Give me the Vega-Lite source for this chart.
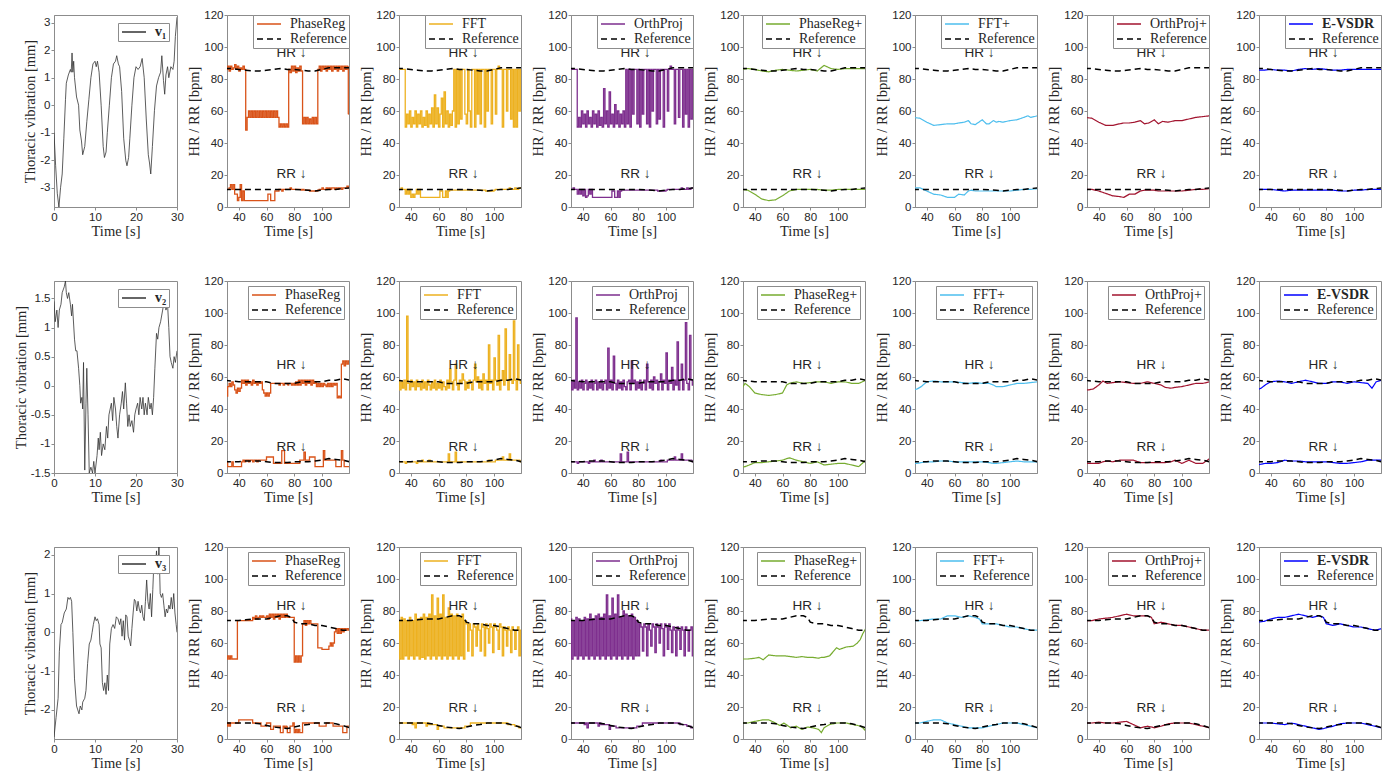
{
"$schema":"https://vega.github.io/schema/vega-lite/v6.json",
"padding":{"left":12,"top":8,"right":2,"bottom":0},
"background":"white",
"config":{
 "view":{"stroke":"#8c8c8c","strokeWidth":1},
 "axis":{"grid":false,"domainColor":"#8c8c8c","tickColor":"#8c8c8c","tickSize":3,"labelFont":"Liberation Sans","labelFontSize":11.5,"labelColor":"#262626","titleFont":"Liberation Serif","titleFontSize":14.5,"titleFontWeight":"normal","titleColor":"#262626","labelPadding":1,"titlePadding":2,"labelFlush":false},
 "legend":{"orient":"top-right","offset":0,"fillColor":"white","strokeColor":"#8c8c8c","padding":2,"rowPadding":1,"symbolType":"M-2.4,0H2.4","symbolSize":100,"symbolStrokeWidth":1.5,"symbolOffset":7,"labelOffset":14,"labelFont":"Liberation Serif","labelFontSize":14,"labelColor":"#262626"},
 "text":{"font":"Liberation Sans","fontSize":13.5,"color":"#262626"}
},
"datasets":{
 "ann1":[{"t":78,"value":92,"label":"HR ↓"},{"t":78,"value":16,"label":"RR ↓"}],
 "ann2":[{"t":78,"value":63,"label":"HR ↓"},{"t":78,"value":12,"label":"RR ↓"}],
 "ann3":[{"t":78,"value":79,"label":"HR ↓"},{"t":78,"value":15,"label":"RR ↓"}],
 "v1":[{"t":0,"v":-1},{"t":0.4,"v":-2.2},{"t":0.8,"v":-3.2},{"t":1.2,"v":-3.7},{"t":1.6,"v":-3},{"t":2,"v":-2.5},{"t":2.4,"v":-1.2},{"t":2.8,"v":0.2},{"t":3,"v":0.8},{"t":3.5,"v":1.1},{"t":4,"v":1.3},{"t":4.2,"v":1.2},{"t":4.4,"v":1.9},{"t":4.6,"v":1.2},{"t":4.8,"v":1.6},{"t":5,"v":1},{"t":5.5,"v":0.3},{"t":6,"v":0},{"t":6.3,"v":-0.9},{"t":6.7,"v":-1.3},{"t":7,"v":-1.8},{"t":7.5,"v":-1.5},{"t":8,"v":-0.6},{"t":8.5,"v":0.2},{"t":9,"v":1},{"t":9.5,"v":1.5},{"t":10,"v":1.6},{"t":10.3,"v":1.4},{"t":10.6,"v":1.6},{"t":11,"v":1.2},{"t":11.5,"v":0},{"t":12,"v":-1.5},{"t":12.3,"v":-1.9},{"t":12.7,"v":-1.7},{"t":13,"v":-1},{"t":13.5,"v":0},{"t":14,"v":1},{"t":14.5,"v":1.5},{"t":15,"v":1.6},{"t":15.3,"v":1.8},{"t":15.7,"v":1.5},{"t":16,"v":1.4},{"t":16.5,"v":0.5},{"t":17,"v":-1.2},{"t":17.5,"v":-2},{"t":17.8,"v":-2.2},{"t":18.2,"v":-1.9},{"t":18.5,"v":-1.2},{"t":19,"v":0},{"t":19.5,"v":1},{"t":20,"v":1.4},{"t":20.5,"v":1.3},{"t":21,"v":1.4},{"t":21.5,"v":1.7},{"t":22,"v":1},{"t":22.5,"v":-0.5},{"t":23,"v":-1.8},{"t":23.3,"v":-2.1},{"t":23.6,"v":-2.5},{"t":24,"v":-1.5},{"t":24.5,"v":-0.2},{"t":25,"v":0.7},{"t":25.5,"v":1},{"t":26,"v":1.2},{"t":26.3,"v":1.8},{"t":26.7,"v":0.9},{"t":27,"v":0.4},{"t":27.3,"v":1.1},{"t":27.7,"v":1.4},{"t":28,"v":1},{"t":28.5,"v":1.4},{"t":29,"v":1.3},{"t":29.3,"v":1.6},{"t":29.6,"v":2.5},{"t":30,"v":3.2}],
 "v2":[{"t":0,"v":1.45},{"t":0.3,"v":1.1},{"t":0.7,"v":1.3},{"t":1,"v":1},{"t":1.3,"v":1.3},{"t":1.7,"v":1.4},{"t":2,"v":1.6},{"t":2.5,"v":1.7},{"t":2.8,"v":1.8},{"t":3,"v":1.6},{"t":3.3,"v":1.5},{"t":3.6,"v":1.6},{"t":4,"v":1.4},{"t":4.3,"v":1.2},{"t":4.5,"v":1.4},{"t":5,"v":0.8},{"t":5.3,"v":0.6},{"t":5.6,"v":0.6},{"t":6,"v":0.3},{"t":6.3,"v":0},{"t":6.5,"v":-0.3},{"t":6.8,"v":-0.2},{"t":7,"v":-0.4},{"t":7.2,"v":0.4},{"t":7.5,"v":-1.45},{"t":7.8,"v":-0.3},{"t":8,"v":0.3},{"t":8.3,"v":-0.5},{"t":8.6,"v":-1.5},{"t":9,"v":-1.4},{"t":9.4,"v":-1.5},{"t":9.7,"v":-1.3},{"t":10,"v":-1.5},{"t":10.5,"v":-1.2},{"t":10.8,"v":-0.9},{"t":11,"v":-1.1},{"t":11.3,"v":-0.8},{"t":11.6,"v":-1.2},{"t":12,"v":-1},{"t":12.4,"v":-1.1},{"t":12.8,"v":-0.7},{"t":13.1,"v":-0.9},{"t":13.4,"v":-0.5},{"t":13.7,"v":-0.4},{"t":14,"v":-0.3},{"t":14.3,"v":-0.6},{"t":14.6,"v":-0.2},{"t":15,"v":-0.4},{"t":15.3,"v":-0.7},{"t":15.6,"v":-0.9},{"t":16,"v":-0.5},{"t":16.4,"v":-0.3},{"t":16.7,"v":-0.1},{"t":17,"v":-0.4},{"t":17.4,"v":0.05},{"t":17.7,"v":-0.3},{"t":18,"v":-0.7},{"t":18.3,"v":-0.5},{"t":18.6,"v":-0.7},{"t":19,"v":-0.6},{"t":19.4,"v":-0.8},{"t":19.7,"v":-0.5},{"t":20,"v":-0.4},{"t":20.4,"v":-0.3},{"t":20.7,"v":-0.5},{"t":21,"v":-0.2},{"t":21.4,"v":-0.4},{"t":21.7,"v":-0.2},{"t":22,"v":-0.5},{"t":22.3,"v":-0.3},{"t":22.7,"v":-0.5},{"t":23,"v":-0.2},{"t":23.4,"v":-0.4},{"t":23.7,"v":-0.3},{"t":24,"v":-0.5},{"t":24.3,"v":-0.2},{"t":24.6,"v":0.3},{"t":25,"v":0.9},{"t":25.3,"v":0.8},{"t":25.6,"v":1},{"t":26,"v":1.1},{"t":26.5,"v":1.3},{"t":27,"v":1.5},{"t":27.3,"v":1.3},{"t":27.7,"v":1.4},{"t":28,"v":1},{"t":28.3,"v":0.5},{"t":28.6,"v":0.4},{"t":29,"v":0.3},{"t":29.3,"v":0.5},{"t":29.6,"v":0.4},{"t":30,"v":0.6}],
 "v3":[{"t":0,"v":-2.7},{"t":0.5,"v":-2.2},{"t":1,"v":-1.7},{"t":1.3,"v":-0.5},{"t":1.7,"v":0.2},{"t":2,"v":0.25},{"t":2.5,"v":0.5},{"t":3,"v":0.6},{"t":3.4,"v":0.9},{"t":3.7,"v":0.85},{"t":4,"v":0.9},{"t":4.3,"v":0.8},{"t":4.6,"v":0},{"t":5,"v":-1.2},{"t":5.5,"v":-1.9},{"t":5.8,"v":-2},{"t":6.1,"v":-2.1},{"t":6.4,"v":-1.9},{"t":6.8,"v":-2},{"t":7,"v":-1.8},{"t":7.5,"v":-1.7},{"t":7.8,"v":-1.5},{"t":8.2,"v":-0.8},{"t":8.6,"v":-0.3},{"t":9,"v":-0.2},{"t":9.3,"v":0},{"t":9.6,"v":0.2},{"t":10,"v":0.4},{"t":10.3,"v":0.3},{"t":10.6,"v":0.35},{"t":11,"v":0.2},{"t":11.2,"v":-0.3},{"t":11.5,"v":-0.4},{"t":11.8,"v":-1.3},{"t":12.1,"v":-1.5},{"t":12.4,"v":-1.3},{"t":12.7,"v":-1.6},{"t":13,"v":-1.1},{"t":13.3,"v":-1.5},{"t":13.6,"v":-0.3},{"t":14,"v":0.1},{"t":14.4,"v":0.2},{"t":14.8,"v":0.1},{"t":15.2,"v":0.4},{"t":15.6,"v":0.35},{"t":16,"v":0.2},{"t":16.3,"v":0.35},{"t":16.6,"v":-0.1},{"t":16.9,"v":0.3},{"t":17.2,"v":-0.2},{"t":17.5,"v":0.45},{"t":17.8,"v":0.4},{"t":18.1,"v":-0.1},{"t":18.4,"v":-0.2},{"t":18.7,"v":-0.35},{"t":19,"v":0.1},{"t":19.3,"v":0.5},{"t":19.6,"v":0.85},{"t":19.9,"v":0.8},{"t":20.2,"v":0.55},{"t":20.5,"v":0.8},{"t":20.8,"v":0.6},{"t":21.1,"v":0.5},{"t":21.4,"v":0.7},{"t":21.7,"v":0.4},{"t":22,"v":0.3},{"t":22.3,"v":0.8},{"t":22.6,"v":1.35},{"t":22.9,"v":0.8},{"t":23.2,"v":0.6},{"t":23.5,"v":1},{"t":23.8,"v":0.4},{"t":24.1,"v":1.1},{"t":24.4,"v":1.9},{"t":24.7,"v":1.6},{"t":25,"v":2.1},{"t":25.3,"v":1.5},{"t":25.6,"v":2.3},{"t":25.9,"v":1},{"t":26.2,"v":0.9},{"t":26.5,"v":1},{"t":26.8,"v":0.7},{"t":27.1,"v":0.4},{"t":27.4,"v":0.6},{"t":27.7,"v":0.5},{"t":28,"v":0.7},{"t":28.3,"v":0.6},{"t":28.6,"v":0.9},{"t":28.9,"v":0.6},{"t":29.2,"v":1},{"t":29.5,"v":0.5},{"t":29.8,"v":0.2},{"t":30,"v":0}],
 "ref1":[{"t":30,"hr":86.5,"rr":11},{"t":35,"hr":86.5,"rr":11},{"t":40,"hr":86,"rr":11},{"t":45,"hr":85.5,"rr":11},{"t":50,"hr":85,"rr":11},{"t":55,"hr":85,"rr":11},{"t":60,"hr":85.5,"rr":11},{"t":65,"hr":86,"rr":11},{"t":70,"hr":86.5,"rr":11},{"t":75,"hr":86,"rr":11},{"t":80,"hr":86,"rr":11},{"t":85,"hr":85.5,"rr":10.8},{"t":90,"hr":85,"rr":10.5},{"t":95,"hr":85,"rr":10},{"t":100,"hr":86,"rr":10.5},{"t":105,"hr":87,"rr":11},{"t":110,"hr":87,"rr":11},{"t":115,"hr":87,"rr":11.5},{"t":120,"hr":87,"rr":12}],
 "ref2":[{"t":30,"hr":58,"rr":7},{"t":35,"hr":57.5,"rr":7},{"t":40,"hr":57,"rr":7},{"t":45,"hr":57,"rr":7.5},{"t":50,"hr":57,"rr":7.5},{"t":55,"hr":57,"rr":7.5},{"t":60,"hr":57,"rr":7},{"t":65,"hr":56,"rr":6.5},{"t":70,"hr":56,"rr":6.5},{"t":75,"hr":56,"rr":6.5},{"t":80,"hr":56,"rr":7},{"t":85,"hr":57,"rr":7},{"t":90,"hr":57,"rr":7},{"t":95,"hr":57,"rr":7.5},{"t":100,"hr":57,"rr":8},{"t":105,"hr":58,"rr":9},{"t":110,"hr":58,"rr":8.5},{"t":115,"hr":59,"rr":8},{"t":120,"hr":58,"rr":7}],
 "ref3":[{"t":30,"hr":74,"rr":10},{"t":35,"hr":74,"rr":10},{"t":40,"hr":74,"rr":10},{"t":45,"hr":74.5,"rr":10},{"t":50,"hr":75,"rr":10},{"t":55,"hr":75,"rr":9.5},{"t":60,"hr":75,"rr":8.5},{"t":65,"hr":76,"rr":7.5},{"t":70,"hr":77,"rr":7},{"t":75,"hr":77,"rr":6.5},{"t":78,"hr":76,"rr":7},{"t":80,"hr":73,"rr":7.5},{"t":85,"hr":72,"rr":8.5},{"t":90,"hr":72,"rr":9},{"t":95,"hr":71,"rr":10},{"t":100,"hr":71,"rr":10},{"t":105,"hr":70,"rr":10},{"t":110,"hr":69,"rr":9.5},{"t":115,"hr":68,"rr":8.5},{"t":120,"hr":68,"rr":7}],
 "pr1":[{"t":31,"hr":86,"rr":11},{"t":32,"hr":88,"rr":11},{"t":33,"hr":85,"rr":12},{"t":34,"hr":88,"rr":14},{"t":35,"hr":86,"rr":11},{"t":36,"hr":87,"rr":14},{"t":37,"hr":89,"rr":8},{"t":38,"hr":86,"rr":8},{"t":39,"hr":88,"rr":4},{"t":40,"hr":85,"rr":6},{"t":41,"hr":87,"rr":14},{"t":42,"hr":86,"rr":4},{"t":43,"hr":88,"rr":10},{"t":44,"hr":86,"rr":4},{"t":45,"hr":48,"rr":4},{"t":46,"hr":56,"rr":4},{"t":47,"hr":60,"rr":4},{"t":48,"hr":56,"rr":4},{"t":49,"hr":60,"rr":4},{"t":50,"hr":56,"rr":4},{"t":51,"hr":60,"rr":4},{"t":52,"hr":56,"rr":4},{"t":53,"hr":60,"rr":4},{"t":54,"hr":56,"rr":4},{"t":55,"hr":60,"rr":4},{"t":56,"hr":56,"rr":4},{"t":57,"hr":60,"rr":4},{"t":58,"hr":56,"rr":4},{"t":59,"hr":60,"rr":4},{"t":60,"hr":56,"rr":4},{"t":61,"hr":60,"rr":8},{"t":62,"hr":56,"rr":8},{"t":63,"hr":60,"rr":4},{"t":64,"hr":56,"rr":4},{"t":65,"hr":60,"rr":4},{"t":66,"hr":56,"rr":10},{"t":67,"hr":60,"rr":10},{"t":68,"hr":56,"rr":10},{"t":69,"hr":50,"rr":11},{"t":70,"hr":52,"rr":11},{"t":71,"hr":50,"rr":10},{"t":72,"hr":52,"rr":11},{"t":73,"hr":50,"rr":11},{"t":74,"hr":52,"rr":11},{"t":75,"hr":50,"rr":11},{"t":76,"hr":86,"rr":11},{"t":77,"hr":84,"rr":12},{"t":78,"hr":88,"rr":11},{"t":79,"hr":85,"rr":11},{"t":80,"hr":88,"rr":11},{"t":81,"hr":84,"rr":11},{"t":82,"hr":87,"rr":11},{"t":83,"hr":85,"rr":11},{"t":84,"hr":88,"rr":11},{"t":85,"hr":85,"rr":10.5},{"t":86,"hr":52,"rr":11},{"t":87,"hr":56,"rr":10.5},{"t":88,"hr":52,"rr":10.5},{"t":89,"hr":56,"rr":10.5},{"t":90,"hr":52,"rr":10.5},{"t":91,"hr":55,"rr":10},{"t":92,"hr":52,"rr":10},{"t":93,"hr":56,"rr":10},{"t":94,"hr":52,"rr":10},{"t":95,"hr":56,"rr":10},{"t":96,"hr":52,"rr":10},{"t":97,"hr":86,"rr":10.5},{"t":98,"hr":88,"rr":11},{"t":99,"hr":85,"rr":11},{"t":100,"hr":88,"rr":12},{"t":101,"hr":86,"rr":11},{"t":102,"hr":88,"rr":11},{"t":103,"hr":85,"rr":12},{"t":104,"hr":88,"rr":11},{"t":105,"hr":86,"rr":12},{"t":106,"hr":88,"rr":11},{"t":107,"hr":85,"rr":12},{"t":108,"hr":88,"rr":12},{"t":109,"hr":86,"rr":11},{"t":110,"hr":88,"rr":12},{"t":111,"hr":85,"rr":11},{"t":112,"hr":88,"rr":12},{"t":113,"hr":86,"rr":12},{"t":114,"hr":88,"rr":11},{"t":115,"hr":85,"rr":12},{"t":116,"hr":88,"rr":12},{"t":117,"hr":86,"rr":12},{"t":118,"hr":88,"rr":13},{"t":119,"hr":58,"rr":12},{"t":120,"hr":58,"rr":12}],
 "fft1":[{"t":30,"hr":50,"rr":11},{"t":31,"hr":86,"rr":11},{"t":32,"hr":86,"rr":11},{"t":33,"hr":86,"rr":12},{"t":34,"hr":86,"rr":11},{"t":35,"hr":86,"rr":11},{"t":36,"hr":50,"rr":8},{"t":37,"hr":58,"rr":11},{"t":38,"hr":52,"rr":8},{"t":39,"hr":60,"rr":11},{"t":40,"hr":50,"rr":6},{"t":41,"hr":56,"rr":8},{"t":42,"hr":52,"rr":6},{"t":43,"hr":60,"rr":8},{"t":44,"hr":50,"rr":11},{"t":45,"hr":58,"rr":8},{"t":46,"hr":52,"rr":11},{"t":47,"hr":60,"rr":6},{"t":48,"hr":50,"rr":6},{"t":49,"hr":56,"rr":6},{"t":50,"hr":51,"rr":6},{"t":51,"hr":60,"rr":6},{"t":52,"hr":50,"rr":6},{"t":53,"hr":58,"rr":6},{"t":54,"hr":52,"rr":6},{"t":55,"hr":62,"rr":6},{"t":56,"hr":50,"rr":6},{"t":57,"hr":70,"rr":6},{"t":58,"hr":52,"rr":6},{"t":59,"hr":62,"rr":6},{"t":60,"hr":50,"rr":6},{"t":61,"hr":58,"rr":10},{"t":62,"hr":68,"rr":10},{"t":63,"hr":50,"rr":6},{"t":64,"hr":72,"rr":6},{"t":65,"hr":52,"rr":10},{"t":66,"hr":60,"rr":6},{"t":67,"hr":50,"rr":10},{"t":68,"hr":58,"rr":10.5},{"t":69,"hr":51,"rr":10.5},{"t":70,"hr":60,"rr":10.5},{"t":71,"hr":86,"rr":10.5},{"t":72,"hr":50,"rr":10.5},{"t":73,"hr":86,"rr":10.5},{"t":74,"hr":52,"rr":10.5},{"t":75,"hr":86,"rr":10.5},{"t":76,"hr":55,"rr":10.5},{"t":77,"hr":86,"rr":10.5},{"t":78,"hr":86,"rr":10.5},{"t":79,"hr":58,"rr":10.5},{"t":80,"hr":52,"rr":10.5},{"t":81,"hr":86,"rr":10.5},{"t":82,"hr":60,"rr":10.5},{"t":83,"hr":50,"rr":10.5},{"t":84,"hr":86,"rr":10.5},{"t":85,"hr":86,"rr":10.5},{"t":86,"hr":50,"rr":10.5},{"t":87,"hr":86,"rr":10.5},{"t":88,"hr":58,"rr":10.5},{"t":89,"hr":86,"rr":10.5},{"t":90,"hr":52,"rr":10.5},{"t":91,"hr":86,"rr":10.5},{"t":92,"hr":86,"rr":10.5},{"t":93,"hr":50,"rr":10.5},{"t":94,"hr":86,"rr":10},{"t":95,"hr":60,"rr":10},{"t":96,"hr":86,"rr":10},{"t":97,"hr":86,"rr":10},{"t":98,"hr":52,"rr":10},{"t":99,"hr":86,"rr":10},{"t":100,"hr":86,"rr":10.5},{"t":101,"hr":58,"rr":11},{"t":102,"hr":86,"rr":11},{"t":103,"hr":88,"rr":11},{"t":104,"hr":86,"rr":11},{"t":105,"hr":86,"rr":11},{"t":106,"hr":50,"rr":11},{"t":107,"hr":86,"rr":11},{"t":108,"hr":86,"rr":11},{"t":109,"hr":60,"rr":11},{"t":110,"hr":86,"rr":11},{"t":111,"hr":86,"rr":12},{"t":112,"hr":55,"rr":11},{"t":113,"hr":86,"rr":11},{"t":114,"hr":50,"rr":11},{"t":115,"hr":86,"rr":12},{"t":116,"hr":50,"rr":11},{"t":117,"hr":86,"rr":11},{"t":118,"hr":60,"rr":12},{"t":119,"hr":86,"rr":12},{"t":120,"hr":86,"rr":12}],
 "op1":[{"t":30,"hr":50,"rr":11},{"t":31,"hr":86,"rr":11},{"t":32,"hr":86,"rr":11},{"t":33,"hr":86,"rr":12},{"t":34,"hr":86,"rr":11},{"t":35,"hr":86,"rr":11},{"t":36,"hr":50,"rr":8},{"t":37,"hr":56,"rr":11},{"t":38,"hr":50,"rr":8},{"t":39,"hr":60,"rr":11},{"t":40,"hr":52,"rr":7},{"t":41,"hr":58,"rr":11},{"t":42,"hr":50,"rr":6},{"t":43,"hr":60,"rr":7},{"t":44,"hr":52,"rr":11},{"t":45,"hr":56,"rr":8},{"t":46,"hr":50,"rr":11},{"t":47,"hr":60,"rr":6},{"t":48,"hr":52,"rr":6},{"t":49,"hr":58,"rr":6},{"t":50,"hr":50,"rr":6},{"t":51,"hr":60,"rr":6},{"t":52,"hr":51,"rr":6},{"t":53,"hr":56,"rr":6},{"t":54,"hr":50,"rr":6},{"t":55,"hr":74,"rr":6},{"t":56,"hr":52,"rr":6},{"t":57,"hr":60,"rr":6},{"t":58,"hr":50,"rr":6},{"t":59,"hr":72,"rr":6},{"t":60,"hr":52,"rr":6},{"t":61,"hr":58,"rr":10},{"t":62,"hr":50,"rr":10},{"t":63,"hr":64,"rr":6},{"t":64,"hr":52,"rr":6},{"t":65,"hr":60,"rr":10},{"t":66,"hr":50,"rr":6},{"t":67,"hr":58,"rr":10},{"t":68,"hr":52,"rr":10.5},{"t":69,"hr":60,"rr":10.5},{"t":70,"hr":50,"rr":10.5},{"t":71,"hr":86,"rr":10.5},{"t":72,"hr":52,"rr":10.5},{"t":73,"hr":86,"rr":10.5},{"t":74,"hr":50,"rr":10.5},{"t":75,"hr":86,"rr":10.5},{"t":76,"hr":58,"rr":10.5},{"t":77,"hr":86,"rr":10.5},{"t":78,"hr":86,"rr":10.5},{"t":79,"hr":52,"rr":10.5},{"t":80,"hr":86,"rr":10.5},{"t":81,"hr":50,"rr":10.5},{"t":82,"hr":86,"rr":10.5},{"t":83,"hr":58,"rr":10.5},{"t":84,"hr":86,"rr":10.5},{"t":85,"hr":86,"rr":10.5},{"t":86,"hr":52,"rr":10.5},{"t":87,"hr":86,"rr":10.5},{"t":88,"hr":50,"rr":10.5},{"t":89,"hr":86,"rr":10.5},{"t":90,"hr":60,"rr":10.5},{"t":91,"hr":86,"rr":10.5},{"t":92,"hr":86,"rr":10.5},{"t":93,"hr":52,"rr":10.5},{"t":94,"hr":86,"rr":10},{"t":95,"hr":55,"rr":10},{"t":96,"hr":86,"rr":10},{"t":97,"hr":86,"rr":10},{"t":98,"hr":50,"rr":10},{"t":99,"hr":86,"rr":10},{"t":100,"hr":86,"rr":10.5},{"t":101,"hr":60,"rr":11},{"t":102,"hr":86,"rr":11},{"t":103,"hr":88,"rr":11},{"t":104,"hr":86,"rr":11},{"t":105,"hr":86,"rr":11},{"t":106,"hr":52,"rr":11},{"t":107,"hr":86,"rr":11},{"t":108,"hr":86,"rr":11},{"t":109,"hr":56,"rr":11},{"t":110,"hr":86,"rr":11},{"t":111,"hr":86,"rr":12},{"t":112,"hr":50,"rr":11},{"t":113,"hr":86,"rr":11},{"t":114,"hr":58,"rr":11},{"t":115,"hr":86,"rr":12},{"t":116,"hr":50,"rr":11},{"t":117,"hr":86,"rr":11},{"t":118,"hr":55,"rr":12},{"t":119,"hr":86,"rr":12},{"t":120,"hr":86,"rr":12}],
 "prp1":[{"t":30,"hr":86,"rr":11},{"t":35,"hr":86.5,"rr":10.5},{"t":40,"hr":86,"rr":8},{"t":45,"hr":85,"rr":5},{"t":50,"hr":84.5,"rr":4},{"t":55,"hr":85.5,"rr":4.5},{"t":60,"hr":86,"rr":7},{"t":65,"hr":85.5,"rr":10},{"t":70,"hr":85,"rr":11},{"t":75,"hr":85.5,"rr":11},{"t":80,"hr":86,"rr":11},{"t":85,"hr":85,"rr":11},{"t":90,"hr":88.5,"rr":10.5},{"t":95,"hr":86.5,"rr":10.5},{"t":100,"hr":86,"rr":11},{"t":105,"hr":86.5,"rr":11},{"t":110,"hr":86.5,"rr":11},{"t":115,"hr":86.5,"rr":11},{"t":120,"hr":86.5,"rr":11}],
 "fftp1":[{"t":30,"hr":56,"rr":12},{"t":35,"hr":55.5,"rr":12},{"t":40,"hr":53,"rr":10},{"t":45,"hr":51,"rr":8},{"t":50,"hr":51.5,"rr":7.5},{"t":55,"hr":52,"rr":6},{"t":60,"hr":52,"rr":6},{"t":63,"hr":52.5,"rr":8},{"t":67,"hr":53,"rr":7.5},{"t":70,"hr":54,"rr":10},{"t":72,"hr":52,"rr":10.5},{"t":75,"hr":51.5,"rr":10},{"t":80,"hr":54.5,"rr":10},{"t":83,"hr":52,"rr":10},{"t":85,"hr":52,"rr":10},{"t":88,"hr":54,"rr":10},{"t":90,"hr":53,"rr":10},{"t":92,"hr":53.5,"rr":10},{"t":95,"hr":53,"rr":10},{"t":100,"hr":54,"rr":10},{"t":105,"hr":54.5,"rr":10.5},{"t":110,"hr":56,"rr":11},{"t":113,"hr":57,"rr":11},{"t":115,"hr":56,"rr":11},{"t":120,"hr":57,"rr":11.5}],
 "opp1":[{"t":30,"hr":56,"rr":11},{"t":35,"hr":55.5,"rr":11},{"t":40,"hr":53,"rr":10},{"t":45,"hr":51,"rr":8.5},{"t":50,"hr":51,"rr":7},{"t":55,"hr":52,"rr":6.5},{"t":58,"hr":52.5,"rr":6},{"t":62,"hr":52.5,"rr":8},{"t":66,"hr":53,"rr":8},{"t":70,"hr":54,"rr":10},{"t":73,"hr":52,"rr":10.5},{"t":76,"hr":52.5,"rr":10.5},{"t":80,"hr":54.5,"rr":10.5},{"t":83,"hr":52,"rr":10},{"t":86,"hr":53.5,"rr":10},{"t":90,"hr":53,"rr":10},{"t":95,"hr":54,"rr":10},{"t":100,"hr":54,"rr":10},{"t":105,"hr":55,"rr":10.5},{"t":110,"hr":56,"rr":11},{"t":115,"hr":56.5,"rr":11},{"t":120,"hr":57,"rr":11.5}],
 "ev1":[{"t":30,"hr":85.5,"rr":11},{"t":35,"hr":85.5,"rr":11},{"t":40,"hr":86,"rr":11},{"t":45,"hr":85.5,"rr":10.5},{"t":50,"hr":85.5,"rr":10},{"t":55,"hr":85,"rr":10.5},{"t":60,"hr":86,"rr":10.5},{"t":65,"hr":86.5,"rr":10.5},{"t":70,"hr":86,"rr":10.5},{"t":75,"hr":86.5,"rr":10.5},{"t":80,"hr":86,"rr":10.5},{"t":85,"hr":85.5,"rr":10.5},{"t":90,"hr":85.5,"rr":10},{"t":95,"hr":86,"rr":10},{"t":100,"hr":86,"rr":10.5},{"t":105,"hr":86,"rr":10.5},{"t":110,"hr":86,"rr":11},{"t":115,"hr":86,"rr":11},{"t":120,"hr":86,"rr":11}],
 "pr2":[{"t":31,"hr":48,"rr":7},{"t":32,"hr":54,"rr":4},{"t":33,"hr":56,"rr":4},{"t":34,"hr":54,"rr":4},{"t":35,"hr":57,"rr":7},{"t":36,"hr":55,"rr":4},{"t":37,"hr":52,"rr":4},{"t":38,"hr":50,"rr":4},{"t":39,"hr":53,"rr":4},{"t":40,"hr":51,"rr":4},{"t":41,"hr":53,"rr":4},{"t":42,"hr":58,"rr":7},{"t":43,"hr":56,"rr":8},{"t":44,"hr":58,"rr":7},{"t":45,"hr":55,"rr":8},{"t":46,"hr":58,"rr":8},{"t":47,"hr":56,"rr":7},{"t":48,"hr":57,"rr":8},{"t":49,"hr":55,"rr":8},{"t":50,"hr":58,"rr":7},{"t":51,"hr":56,"rr":8},{"t":52,"hr":57,"rr":8},{"t":53,"hr":55,"rr":7},{"t":54,"hr":57,"rr":8},{"t":55,"hr":56,"rr":8},{"t":56,"hr":57,"rr":8},{"t":57,"hr":52,"rr":8},{"t":58,"hr":50,"rr":8},{"t":59,"hr":48,"rr":8},{"t":60,"hr":50,"rr":10},{"t":61,"hr":48,"rr":10},{"t":62,"hr":50,"rr":10},{"t":63,"hr":56,"rr":10},{"t":64,"hr":56,"rr":10},{"t":65,"hr":56,"rr":6},{"t":66,"hr":56,"rr":6},{"t":67,"hr":56,"rr":6},{"t":68,"hr":56,"rr":6},{"t":69,"hr":55,"rr":6},{"t":70,"hr":56,"rr":6},{"t":71,"hr":56,"rr":14},{"t":72,"hr":55,"rr":14},{"t":73,"hr":56,"rr":6},{"t":74,"hr":56,"rr":6},{"t":75,"hr":55,"rr":6},{"t":76,"hr":56,"rr":6},{"t":77,"hr":56,"rr":6},{"t":78,"hr":55,"rr":6},{"t":79,"hr":56,"rr":6},{"t":80,"hr":55,"rr":6},{"t":81,"hr":57,"rr":6},{"t":82,"hr":55,"rr":6},{"t":83,"hr":58,"rr":6},{"t":84,"hr":55,"rr":8},{"t":85,"hr":58,"rr":8},{"t":86,"hr":56,"rr":8},{"t":87,"hr":58,"rr":13},{"t":88,"hr":55,"rr":8},{"t":89,"hr":58,"rr":8},{"t":90,"hr":56,"rr":8},{"t":91,"hr":58,"rr":10},{"t":92,"hr":55,"rr":10},{"t":93,"hr":58,"rr":10},{"t":94,"hr":56,"rr":10},{"t":95,"hr":57,"rr":4},{"t":96,"hr":54,"rr":4},{"t":97,"hr":56,"rr":4},{"t":98,"hr":54,"rr":4},{"t":99,"hr":56,"rr":4},{"t":100,"hr":54,"rr":4},{"t":101,"hr":56,"rr":14},{"t":102,"hr":55,"rr":8},{"t":103,"hr":54,"rr":8},{"t":104,"hr":56,"rr":8},{"t":105,"hr":54,"rr":8},{"t":106,"hr":56,"rr":8},{"t":107,"hr":54,"rr":8},{"t":108,"hr":56,"rr":8},{"t":109,"hr":55,"rr":8},{"t":110,"hr":56,"rr":4},{"t":111,"hr":47,"rr":4},{"t":112,"hr":48,"rr":4},{"t":113,"hr":47,"rr":4},{"t":114,"hr":68,"rr":14},{"t":115,"hr":70,"rr":8},{"t":116,"hr":67,"rr":4},{"t":117,"hr":70,"rr":4},{"t":118,"hr":68,"rr":4},{"t":119,"hr":70,"rr":4},{"t":120,"hr":68,"rr":4}],
 "fft2":[{"t":31,"hr":58,"rr":7},{"t":32,"hr":52,"rr":7},{"t":33,"hr":57,"rr":7},{"t":34,"hr":53,"rr":7},{"t":35,"hr":58,"rr":7},{"t":36,"hr":52,"rr":6},{"t":37,"hr":98,"rr":7},{"t":38,"hr":56,"rr":7},{"t":39,"hr":52,"rr":7},{"t":40,"hr":58,"rr":7},{"t":41,"hr":54,"rr":7},{"t":42,"hr":57,"rr":7},{"t":43,"hr":52,"rr":7},{"t":44,"hr":58,"rr":6},{"t":45,"hr":54,"rr":7},{"t":46,"hr":56,"rr":7},{"t":47,"hr":52,"rr":7},{"t":48,"hr":58,"rr":8},{"t":49,"hr":53,"rr":7},{"t":50,"hr":57,"rr":7},{"t":51,"hr":52,"rr":7},{"t":52,"hr":58,"rr":7},{"t":53,"hr":55,"rr":8},{"t":54,"hr":52,"rr":7},{"t":55,"hr":57,"rr":7},{"t":56,"hr":53,"rr":7},{"t":57,"hr":58,"rr":7},{"t":58,"hr":52,"rr":7},{"t":59,"hr":56,"rr":7},{"t":60,"hr":53,"rr":7},{"t":61,"hr":58,"rr":7},{"t":62,"hr":52,"rr":7},{"t":63,"hr":57,"rr":7},{"t":64,"hr":54,"rr":7},{"t":65,"hr":52,"rr":7},{"t":66,"hr":58,"rr":7},{"t":67,"hr":53,"rr":12},{"t":68,"hr":65,"rr":7},{"t":69,"hr":57,"rr":7},{"t":70,"hr":52,"rr":7},{"t":71,"hr":58,"rr":7},{"t":72,"hr":68,"rr":13},{"t":73,"hr":55,"rr":7},{"t":74,"hr":52,"rr":7},{"t":75,"hr":58,"rr":7},{"t":76,"hr":56,"rr":7},{"t":77,"hr":62,"rr":7},{"t":78,"hr":58,"rr":7},{"t":79,"hr":52,"rr":7},{"t":80,"hr":57,"rr":7},{"t":81,"hr":53,"rr":7},{"t":82,"hr":58,"rr":7},{"t":83,"hr":56,"rr":7},{"t":84,"hr":52,"rr":7},{"t":85,"hr":58,"rr":7},{"t":86,"hr":68,"rr":7},{"t":87,"hr":57,"rr":7},{"t":88,"hr":60,"rr":7},{"t":89,"hr":53,"rr":7},{"t":90,"hr":58,"rr":7},{"t":91,"hr":52,"rr":7},{"t":92,"hr":62,"rr":7},{"t":93,"hr":56,"rr":7},{"t":94,"hr":58,"rr":7},{"t":95,"hr":52,"rr":7},{"t":96,"hr":80,"rr":8},{"t":97,"hr":56,"rr":7},{"t":98,"hr":58,"rr":7},{"t":99,"hr":52,"rr":7},{"t":100,"hr":72,"rr":7},{"t":101,"hr":58,"rr":8},{"t":102,"hr":55,"rr":8},{"t":103,"hr":86,"rr":8},{"t":104,"hr":52,"rr":8},{"t":105,"hr":58,"rr":8},{"t":106,"hr":64,"rr":10},{"t":107,"hr":55,"rr":8},{"t":108,"hr":90,"rr":8},{"t":109,"hr":58,"rr":8},{"t":110,"hr":52,"rr":8},{"t":111,"hr":74,"rr":12},{"t":112,"hr":58,"rr":8},{"t":113,"hr":56,"rr":8},{"t":114,"hr":95,"rr":8},{"t":115,"hr":58,"rr":8},{"t":116,"hr":52,"rr":8},{"t":117,"hr":80,"rr":8},{"t":118,"hr":58,"rr":8},{"t":119,"hr":56,"rr":7},{"t":120,"hr":57,"rr":7}],
 "op2":[{"t":31,"hr":57,"rr":7},{"t":32,"hr":52,"rr":7},{"t":33,"hr":58,"rr":7},{"t":34,"hr":53,"rr":7},{"t":35,"hr":97,"rr":7},{"t":36,"hr":52,"rr":6},{"t":37,"hr":57,"rr":7},{"t":38,"hr":53,"rr":7},{"t":39,"hr":58,"rr":7},{"t":40,"hr":52,"rr":7},{"t":41,"hr":56,"rr":7},{"t":42,"hr":58,"rr":7},{"t":43,"hr":52,"rr":7},{"t":44,"hr":57,"rr":6},{"t":45,"hr":53,"rr":7},{"t":46,"hr":58,"rr":7},{"t":47,"hr":52,"rr":7},{"t":48,"hr":56,"rr":8},{"t":49,"hr":58,"rr":7},{"t":50,"hr":52,"rr":7},{"t":51,"hr":57,"rr":7},{"t":52,"hr":53,"rr":7},{"t":53,"hr":58,"rr":8},{"t":54,"hr":52,"rr":7},{"t":55,"hr":56,"rr":7},{"t":56,"hr":58,"rr":7},{"t":57,"hr":52,"rr":7},{"t":58,"hr":78,"rr":7},{"t":59,"hr":53,"rr":7},{"t":60,"hr":58,"rr":7},{"t":61,"hr":52,"rr":7},{"t":62,"hr":73,"rr":7},{"t":63,"hr":56,"rr":7},{"t":64,"hr":52,"rr":7},{"t":65,"hr":58,"rr":7},{"t":66,"hr":53,"rr":7},{"t":67,"hr":57,"rr":12},{"t":68,"hr":52,"rr":7},{"t":69,"hr":58,"rr":7},{"t":70,"hr":54,"rr":7},{"t":71,"hr":52,"rr":7},{"t":72,"hr":57,"rr":13},{"t":73,"hr":58,"rr":7},{"t":74,"hr":52,"rr":7},{"t":75,"hr":70,"rr":7},{"t":76,"hr":56,"rr":7},{"t":77,"hr":58,"rr":7},{"t":78,"hr":52,"rr":7},{"t":79,"hr":57,"rr":7},{"t":80,"hr":53,"rr":7},{"t":81,"hr":58,"rr":7},{"t":82,"hr":52,"rr":7},{"t":83,"hr":56,"rr":7},{"t":84,"hr":58,"rr":7},{"t":85,"hr":52,"rr":7},{"t":86,"hr":68,"rr":7},{"t":87,"hr":57,"rr":7},{"t":88,"hr":53,"rr":7},{"t":89,"hr":58,"rr":7},{"t":90,"hr":52,"rr":7},{"t":91,"hr":60,"rr":7},{"t":92,"hr":56,"rr":7},{"t":93,"hr":58,"rr":7},{"t":94,"hr":52,"rr":7},{"t":95,"hr":57,"rr":7},{"t":96,"hr":62,"rr":8},{"t":97,"hr":52,"rr":7},{"t":98,"hr":58,"rr":7},{"t":99,"hr":56,"rr":7},{"t":100,"hr":75,"rr":7},{"t":101,"hr":52,"rr":8},{"t":102,"hr":58,"rr":8},{"t":103,"hr":56,"rr":8},{"t":104,"hr":66,"rr":8},{"t":105,"hr":52,"rr":8},{"t":106,"hr":58,"rr":10},{"t":107,"hr":55,"rr":8},{"t":108,"hr":82,"rr":8},{"t":109,"hr":52,"rr":8},{"t":110,"hr":58,"rr":8},{"t":111,"hr":68,"rr":12},{"t":112,"hr":52,"rr":8},{"t":113,"hr":58,"rr":8},{"t":114,"hr":94,"rr":8},{"t":115,"hr":56,"rr":8},{"t":116,"hr":52,"rr":8},{"t":117,"hr":86,"rr":8},{"t":118,"hr":58,"rr":8},{"t":119,"hr":55,"rr":7},{"t":120,"hr":57,"rr":7}],
 "prp2":[{"t":30,"hr":52,"rr":3.5},{"t":33,"hr":56,"rr":4},{"t":36,"hr":54,"rr":5},{"t":40,"hr":50,"rr":6.5},{"t":45,"hr":49,"rr":6.5},{"t":50,"hr":48.5,"rr":7},{"t":55,"hr":49,"rr":7.5},{"t":60,"hr":50,"rr":8},{"t":63,"hr":55,"rr":9},{"t":65,"hr":56,"rr":9.5},{"t":70,"hr":57,"rr":8},{"t":75,"hr":56,"rr":7},{"t":80,"hr":56.5,"rr":6},{"t":85,"hr":57,"rr":7},{"t":90,"hr":57,"rr":5},{"t":95,"hr":56,"rr":5.5},{"t":100,"hr":57,"rr":6},{"t":105,"hr":57,"rr":6},{"t":110,"hr":56,"rr":5},{"t":115,"hr":56,"rr":4},{"t":120,"hr":58,"rr":8}],
 "fftp2":[{"t":30,"hr":52,"rr":6},{"t":33,"hr":52.5,"rr":6},{"t":36,"hr":54,"rr":6.5},{"t":40,"hr":57,"rr":7},{"t":45,"hr":57.5,"rr":7},{"t":50,"hr":57,"rr":7.5},{"t":55,"hr":57,"rr":7.5},{"t":60,"hr":57,"rr":7},{"t":65,"hr":56.5,"rr":7},{"t":70,"hr":56,"rr":7},{"t":75,"hr":56.5,"rr":7},{"t":80,"hr":56,"rr":7},{"t":85,"hr":56,"rr":6.5},{"t":88,"hr":55,"rr":6},{"t":90,"hr":54,"rr":6},{"t":95,"hr":54,"rr":6.5},{"t":100,"hr":55,"rr":7},{"t":105,"hr":56,"rr":7.5},{"t":110,"hr":56,"rr":7},{"t":115,"hr":56.5,"rr":7},{"t":120,"hr":57,"rr":7}],
 "opp2":[{"t":30,"hr":52,"rr":6},{"t":33,"hr":52,"rr":6},{"t":36,"hr":52.5,"rr":6},{"t":40,"hr":55,"rr":6},{"t":43,"hr":57.5,"rr":7},{"t":46,"hr":56,"rr":7.5},{"t":50,"hr":56.5,"rr":7},{"t":55,"hr":57,"rr":8},{"t":60,"hr":56.5,"rr":8},{"t":65,"hr":56,"rr":8},{"t":70,"hr":56,"rr":6.5},{"t":75,"hr":57,"rr":6.5},{"t":80,"hr":56,"rr":6.5},{"t":85,"hr":55,"rr":6.5},{"t":88,"hr":53.5,"rr":6.5},{"t":92,"hr":53,"rr":7},{"t":95,"hr":53.5,"rr":8},{"t":100,"hr":54,"rr":6},{"t":105,"hr":55,"rr":8},{"t":110,"hr":56,"rr":6},{"t":115,"hr":56,"rr":6},{"t":120,"hr":57,"rr":9}],
 "ev2":[{"t":30,"hr":52,"rr":5},{"t":33,"hr":53,"rr":5.5},{"t":36,"hr":55,"rr":6},{"t":40,"hr":57,"rr":6},{"t":45,"hr":57.5,"rr":6.5},{"t":50,"hr":57,"rr":8},{"t":55,"hr":56,"rr":7.5},{"t":60,"hr":57,"rr":7.5},{"t":65,"hr":58,"rr":7},{"t":70,"hr":57,"rr":7},{"t":75,"hr":56,"rr":7},{"t":80,"hr":56,"rr":7},{"t":85,"hr":57,"rr":6.5},{"t":90,"hr":57,"rr":6},{"t":95,"hr":56,"rr":6},{"t":100,"hr":57,"rr":6.5},{"t":105,"hr":56.5,"rr":7},{"t":110,"hr":56,"rr":8},{"t":113,"hr":53,"rr":8},{"t":116,"hr":57,"rr":8},{"t":120,"hr":58,"rr":8}],
 "pr3":[{"t":31,"hr":50,"rr":8},{"t":32,"hr":52,"rr":10},{"t":33,"hr":50,"rr":8},{"t":34,"hr":52,"rr":10},{"t":35,"hr":50,"rr":10},{"t":36,"hr":50,"rr":10},{"t":37,"hr":50,"rr":10},{"t":38,"hr":50,"rr":10},{"t":39,"hr":74,"rr":10},{"t":40,"hr":74,"rr":12},{"t":45,"hr":74,"rr":12},{"t":49,"hr":74,"rr":12},{"t":50,"hr":76,"rr":10},{"t":51,"hr":75,"rr":10},{"t":52,"hr":77,"rr":10},{"t":53,"hr":75,"rr":10},{"t":54,"hr":76,"rr":10},{"t":55,"hr":77,"rr":10},{"t":56,"hr":76,"rr":8},{"t":57,"hr":77,"rr":8},{"t":58,"hr":76,"rr":8},{"t":59,"hr":76,"rr":8},{"t":60,"hr":77,"rr":10},{"t":61,"hr":75,"rr":10},{"t":62,"hr":78,"rr":10},{"t":63,"hr":76,"rr":6},{"t":64,"hr":78,"rr":6},{"t":65,"hr":75,"rr":8},{"t":66,"hr":78,"rr":8},{"t":67,"hr":76,"rr":8},{"t":68,"hr":78,"rr":8},{"t":69,"hr":75,"rr":8},{"t":70,"hr":78,"rr":4},{"t":71,"hr":76,"rr":4},{"t":72,"hr":78,"rr":8},{"t":73,"hr":76,"rr":7},{"t":74,"hr":78,"rr":8},{"t":75,"hr":76,"rr":4},{"t":76,"hr":76,"rr":4},{"t":77,"hr":76,"rr":8},{"t":78,"hr":76,"rr":8},{"t":79,"hr":76,"rr":10},{"t":80,"hr":48,"rr":4},{"t":81,"hr":52,"rr":6},{"t":82,"hr":48,"rr":4},{"t":83,"hr":52,"rr":6},{"t":84,"hr":48,"rr":4},{"t":85,"hr":52,"rr":4},{"t":86,"hr":72,"rr":10},{"t":87,"hr":74,"rr":10},{"t":88,"hr":71,"rr":10},{"t":89,"hr":74,"rr":10},{"t":90,"hr":72,"rr":10},{"t":91,"hr":74,"rr":10},{"t":92,"hr":72,"rr":10},{"t":96,"hr":72,"rr":10},{"t":97,"hr":57,"rr":10},{"t":98,"hr":57,"rr":8},{"t":100,"hr":56,"rr":8},{"t":103,"hr":56,"rr":10},{"t":105,"hr":58,"rr":10},{"t":106,"hr":60,"rr":10},{"t":107,"hr":58,"rr":10},{"t":108,"hr":60,"rr":8},{"t":109,"hr":67,"rr":8},{"t":110,"hr":69,"rr":8},{"t":111,"hr":66,"rr":8},{"t":112,"hr":69,"rr":8},{"t":113,"hr":66,"rr":8},{"t":114,"hr":69,"rr":8},{"t":115,"hr":67,"rr":4},{"t":116,"hr":69,"rr":4},{"t":117,"hr":68,"rr":4},{"t":118,"hr":69,"rr":8},{"t":119,"hr":68,"rr":8},{"t":120,"hr":69,"rr":8}],
 "fft3":[{"t":31,"hr":74,"rr":10},{"t":32,"hr":50,"rr":10},{"t":33,"hr":76,"rr":10},{"t":34,"hr":50,"rr":10},{"t":35,"hr":75,"rr":10},{"t":36,"hr":52,"rr":10},{"t":37,"hr":74,"rr":10},{"t":38,"hr":50,"rr":10},{"t":39,"hr":76,"rr":10},{"t":40,"hr":52,"rr":10},{"t":41,"hr":74,"rr":9},{"t":42,"hr":50,"rr":10},{"t":43,"hr":78,"rr":7},{"t":44,"hr":52,"rr":10},{"t":45,"hr":75,"rr":10},{"t":46,"hr":50,"rr":10},{"t":47,"hr":76,"rr":10},{"t":48,"hr":51,"rr":10},{"t":49,"hr":78,"rr":10},{"t":50,"hr":50,"rr":10},{"t":51,"hr":76,"rr":8},{"t":52,"hr":52,"rr":10},{"t":53,"hr":78,"rr":9},{"t":54,"hr":50,"rr":9},{"t":55,"hr":90,"rr":9},{"t":56,"hr":52,"rr":9},{"t":57,"hr":77,"rr":9},{"t":58,"hr":50,"rr":9},{"t":59,"hr":88,"rr":6},{"t":60,"hr":52,"rr":8},{"t":61,"hr":78,"rr":8},{"t":62,"hr":50,"rr":8},{"t":63,"hr":90,"rr":8},{"t":64,"hr":52,"rr":7},{"t":65,"hr":76,"rr":7},{"t":66,"hr":50,"rr":7},{"t":67,"hr":82,"rr":7},{"t":68,"hr":52,"rr":7},{"t":69,"hr":78,"rr":7},{"t":70,"hr":50,"rr":7},{"t":71,"hr":77,"rr":7},{"t":72,"hr":52,"rr":7},{"t":73,"hr":78,"rr":7},{"t":74,"hr":50,"rr":7},{"t":75,"hr":76,"rr":7},{"t":76,"hr":52,"rr":7},{"t":77,"hr":78,"rr":7},{"t":78,"hr":50,"rr":7},{"t":79,"hr":74,"rr":8},{"t":80,"hr":72,"rr":8},{"t":81,"hr":55,"rr":8},{"t":82,"hr":72,"rr":8},{"t":83,"hr":68,"rr":10},{"t":84,"hr":52,"rr":10},{"t":85,"hr":72,"rr":10},{"t":86,"hr":70,"rr":10},{"t":87,"hr":58,"rr":10},{"t":88,"hr":72,"rr":10},{"t":89,"hr":68,"rr":10},{"t":90,"hr":55,"rr":10},{"t":91,"hr":72,"rr":10},{"t":92,"hr":70,"rr":10},{"t":93,"hr":52,"rr":10},{"t":94,"hr":72,"rr":10},{"t":95,"hr":69,"rr":10},{"t":96,"hr":60,"rr":10},{"t":97,"hr":72,"rr":10},{"t":98,"hr":70,"rr":10},{"t":99,"hr":54,"rr":10},{"t":100,"hr":72,"rr":10},{"t":101,"hr":70,"rr":10},{"t":102,"hr":68,"rr":10},{"t":103,"hr":56,"rr":10},{"t":104,"hr":72,"rr":10},{"t":105,"hr":70,"rr":10},{"t":106,"hr":52,"rr":10},{"t":107,"hr":70,"rr":10},{"t":108,"hr":68,"rr":10},{"t":109,"hr":58,"rr":10},{"t":110,"hr":70,"rr":9},{"t":111,"hr":68,"rr":9},{"t":112,"hr":54,"rr":9},{"t":113,"hr":70,"rr":9},{"t":114,"hr":68,"rr":9},{"t":115,"hr":56,"rr":8},{"t":116,"hr":68,"rr":8},{"t":117,"hr":70,"rr":8},{"t":118,"hr":52,"rr":7},{"t":119,"hr":68,"rr":7},{"t":120,"hr":68,"rr":7}],
 "op3":[{"t":31,"hr":75,"rr":10},{"t":32,"hr":50,"rr":10},{"t":33,"hr":74,"rr":10},{"t":34,"hr":52,"rr":10},{"t":35,"hr":76,"rr":10},{"t":36,"hr":50,"rr":10},{"t":37,"hr":75,"rr":10},{"t":38,"hr":52,"rr":10},{"t":39,"hr":74,"rr":10},{"t":40,"hr":50,"rr":10},{"t":41,"hr":76,"rr":9},{"t":42,"hr":52,"rr":10},{"t":43,"hr":75,"rr":7},{"t":44,"hr":50,"rr":10},{"t":45,"hr":78,"rr":10},{"t":46,"hr":52,"rr":10},{"t":47,"hr":75,"rr":10},{"t":48,"hr":50,"rr":10},{"t":49,"hr":77,"rr":10},{"t":50,"hr":52,"rr":10},{"t":51,"hr":78,"rr":8},{"t":52,"hr":50,"rr":10},{"t":53,"hr":76,"rr":9},{"t":54,"hr":52,"rr":9},{"t":55,"hr":78,"rr":9},{"t":56,"hr":50,"rr":9},{"t":57,"hr":90,"rr":9},{"t":58,"hr":52,"rr":9},{"t":59,"hr":77,"rr":6},{"t":60,"hr":50,"rr":8},{"t":61,"hr":88,"rr":8},{"t":62,"hr":52,"rr":8},{"t":63,"hr":78,"rr":8},{"t":64,"hr":50,"rr":7},{"t":65,"hr":90,"rr":7},{"t":66,"hr":52,"rr":7},{"t":67,"hr":76,"rr":7},{"t":68,"hr":50,"rr":7},{"t":69,"hr":80,"rr":7},{"t":70,"hr":52,"rr":7},{"t":71,"hr":78,"rr":7},{"t":72,"hr":50,"rr":7},{"t":73,"hr":77,"rr":7},{"t":74,"hr":52,"rr":7},{"t":75,"hr":78,"rr":7},{"t":76,"hr":50,"rr":7},{"t":77,"hr":76,"rr":7},{"t":78,"hr":52,"rr":7},{"t":79,"hr":74,"rr":8},{"t":80,"hr":52,"rr":8},{"t":81,"hr":72,"rr":8},{"t":82,"hr":70,"rr":8},{"t":83,"hr":55,"rr":10},{"t":84,"hr":72,"rr":10},{"t":85,"hr":70,"rr":10},{"t":86,"hr":52,"rr":10},{"t":87,"hr":72,"rr":10},{"t":88,"hr":68,"rr":10},{"t":89,"hr":58,"rr":10},{"t":90,"hr":72,"rr":10},{"t":91,"hr":70,"rr":10},{"t":92,"hr":54,"rr":10},{"t":93,"hr":72,"rr":10},{"t":94,"hr":70,"rr":10},{"t":95,"hr":60,"rr":10},{"t":96,"hr":72,"rr":10},{"t":97,"hr":69,"rr":10},{"t":98,"hr":52,"rr":10},{"t":99,"hr":72,"rr":10},{"t":100,"hr":70,"rr":10},{"t":101,"hr":56,"rr":10},{"t":102,"hr":72,"rr":10},{"t":103,"hr":68,"rr":10},{"t":104,"hr":54,"rr":10},{"t":105,"hr":70,"rr":10},{"t":106,"hr":68,"rr":10},{"t":107,"hr":52,"rr":10},{"t":108,"hr":70,"rr":10},{"t":109,"hr":68,"rr":10},{"t":110,"hr":56,"rr":9},{"t":111,"hr":70,"rr":9},{"t":112,"hr":68,"rr":9},{"t":113,"hr":52,"rr":9},{"t":114,"hr":70,"rr":9},{"t":115,"hr":68,"rr":8},{"t":116,"hr":55,"rr":8},{"t":117,"hr":68,"rr":8},{"t":118,"hr":70,"rr":7},{"t":119,"hr":52,"rr":7},{"t":120,"hr":68,"rr":7}],
 "prp3":[{"t":30,"hr":50,"rr":10},{"t":35,"hr":50,"rr":10},{"t":40,"hr":50.5,"rr":11},{"t":43,"hr":51,"rr":11.5},{"t":46,"hr":49.5,"rr":12},{"t":50,"hr":52.5,"rr":12},{"t":55,"hr":52,"rr":10},{"t":58,"hr":52,"rr":8.5},{"t":61,"hr":52,"rr":10},{"t":66,"hr":51.5,"rr":7},{"t":70,"hr":51,"rr":8},{"t":74,"hr":51.5,"rr":6},{"t":78,"hr":51,"rr":7.5},{"t":82,"hr":51,"rr":7},{"t":86,"hr":50.5,"rr":6},{"t":88,"hr":51,"rr":4},{"t":90,"hr":51,"rr":7},{"t":94,"hr":52,"rr":9},{"t":99,"hr":57,"rr":10},{"t":101,"hr":56,"rr":10},{"t":106,"hr":57.5,"rr":10},{"t":111,"hr":58,"rr":9},{"t":114,"hr":60,"rr":8.5},{"t":116,"hr":62,"rr":8},{"t":118,"hr":66,"rr":7},{"t":120,"hr":69,"rr":5}],
 "fftp3":[{"t":30,"hr":74,"rr":10},{"t":35,"hr":74,"rr":10},{"t":40,"hr":74.5,"rr":11},{"t":45,"hr":75,"rr":12},{"t":50,"hr":75,"rr":12},{"t":55,"hr":77,"rr":10},{"t":60,"hr":77,"rr":9},{"t":65,"hr":76,"rr":8},{"t":70,"hr":77,"rr":7},{"t":75,"hr":76,"rr":7},{"t":78,"hr":75,"rr":7},{"t":80,"hr":72,"rr":7},{"t":85,"hr":72,"rr":8},{"t":90,"hr":72,"rr":9},{"t":95,"hr":71,"rr":10},{"t":100,"hr":70,"rr":10},{"t":105,"hr":70,"rr":10},{"t":110,"hr":69,"rr":9},{"t":115,"hr":68,"rr":8},{"t":120,"hr":68,"rr":7}],
 "opp3":[{"t":30,"hr":74,"rr":10},{"t":35,"hr":74,"rr":10},{"t":40,"hr":75,"rr":10.5},{"t":45,"hr":75.5,"rr":10},{"t":50,"hr":76,"rr":10},{"t":55,"hr":77,"rr":10.5},{"t":60,"hr":78,"rr":11},{"t":65,"hr":77,"rr":9},{"t":70,"hr":77,"rr":7},{"t":75,"hr":77,"rr":8},{"t":78,"hr":76,"rr":7.5},{"t":80,"hr":72,"rr":7},{"t":85,"hr":73,"rr":8},{"t":90,"hr":72,"rr":9.5},{"t":95,"hr":71,"rr":10},{"t":100,"hr":71,"rr":10},{"t":105,"hr":70,"rr":10},{"t":110,"hr":69,"rr":9},{"t":115,"hr":68,"rr":8},{"t":120,"hr":68,"rr":7}],
 "ev3":[{"t":30,"hr":73,"rr":10},{"t":35,"hr":73.5,"rr":10},{"t":40,"hr":75,"rr":10},{"t":45,"hr":76,"rr":9.5},{"t":50,"hr":76,"rr":9},{"t":55,"hr":77,"rr":10},{"t":60,"hr":78,"rr":9},{"t":65,"hr":77,"rr":8},{"t":70,"hr":76,"rr":7},{"t":75,"hr":77,"rr":6},{"t":78,"hr":76,"rr":6.5},{"t":80,"hr":72,"rr":7},{"t":85,"hr":71,"rr":8},{"t":90,"hr":72,"rr":9.5},{"t":95,"hr":71,"rr":10},{"t":100,"hr":70,"rr":10},{"t":105,"hr":70,"rr":10},{"t":110,"hr":69,"rr":9},{"t":115,"hr":68,"rr":8},{"t":120,"hr":69,"rr":7}]
},
"spacing":35,
"resolve":{"scale":{"x":"independent","y":"independent","color":"independent","strokeDash":"independent"},"legend":{"color":"independent","strokeDash":"independent"}},
"vconcat":[
{"spacing":50,"bounds":"flush","resolve":{"scale":{"x":"independent","y":"independent","color":"independent","strokeDash":"independent"},"legend":{"color":"independent","strokeDash":"independent"}},
"hconcat":[
{"width":123,"height":192,"data":{"name":"v1"},"mark":{"type":"line","clip":true,"strokeWidth":0.8},"encoding":{"x":{"field":"t","type":"quantitative","scale":{"domain":[0,30],"nice":false},"axis":{"values":[0,10,20,30],"title":"Time [s]"}},"y":{"field":"v","type":"quantitative","scale":{"domain":[-3.7,3.28],"nice":false,"zero":false},"axis":{"values":[-3,-2,-1,0,1,2,3],"title":"Thoracic vibration [mm]","labelExpr":"datum.value + ''"}},"color":{"datum":"v₁","type":"nominal","title":null,"scale":{"range":["#333333"]},"legend":{"offset":8,"labelFontWeight":"bold"}}}},
{"width":122,"height":192,"encoding":{"x":{"field":"t","type":"quantitative","scale":{"domain":[31.5,119.5],"nice":false,"zero":false},"axis":{"values":[40,60,80,100],"title":"Time [s]"}},"y":{"field":"value","type":"quantitative","scale":{"domain":[0,120],"nice":false},"axis":{"values":[0,20,40,60,80,100,120],"title":"HR / RR [bpm]"}}},"layer":[
 {"data":{"name":"pr1"},"transform":[{"fold":["hr","rr"]}],"mark":{"type":"line","interpolate":"step-after","clip":true,"strokeWidth":1.3},"encoding":{"detail":{"field":"key","type":"nominal"},"color":{"datum":"PhaseReg","type":"nominal","title":null,"scale":{"domain":["PhaseReg","Reference"],"range":["#D95319","#000000"]}},"strokeDash":{"datum":"PhaseReg","type":"nominal","title":null,"scale":{"domain":["PhaseReg","Reference"],"range":[[1,0],[6,4]]}}}},
 {"data":{"name":"ref1"},"transform":[{"fold":["hr","rr"]}],"mark":{"type":"line","clip":true,"strokeWidth":1.5},"encoding":{"detail":{"field":"key","type":"nominal"},"color":{"datum":"Reference","type":"nominal"},"strokeDash":{"datum":"Reference","type":"nominal"}}},
 {"data":{"name":"ann1"},"mark":{"type":"text","baseline":"bottom"},"encoding":{"text":{"field":"label","type":"nominal"}}}]},
{"width":122,"height":192,"encoding":{"x":{"field":"t","type":"quantitative","scale":{"domain":[31.5,119.5],"nice":false,"zero":false},"axis":{"values":[40,60,80,100],"title":"Time [s]"}},"y":{"field":"value","type":"quantitative","scale":{"domain":[0,120],"nice":false},"axis":{"values":[0,20,40,60,80,100,120],"title":"HR / RR [bpm]"}}},"layer":[
 {"data":{"name":"fft1"},"transform":[{"fold":["hr","rr"]}],"mark":{"type":"line","interpolate":"step-after","clip":true,"strokeWidth":1.3},"encoding":{"detail":{"field":"key","type":"nominal"},"color":{"datum":"FFT","type":"nominal","title":null,"scale":{"domain":["FFT","Reference"],"range":["#EDB120","#000000"]}},"strokeDash":{"datum":"FFT","type":"nominal","title":null,"scale":{"domain":["FFT","Reference"],"range":[[1,0],[6,4]]}}}},
 {"data":{"name":"ref1"},"transform":[{"fold":["hr","rr"]}],"mark":{"type":"line","clip":true,"strokeWidth":1.5},"encoding":{"detail":{"field":"key","type":"nominal"},"color":{"datum":"Reference","type":"nominal"},"strokeDash":{"datum":"Reference","type":"nominal"}}},
 {"data":{"name":"ann1"},"mark":{"type":"text","baseline":"bottom"},"encoding":{"text":{"field":"label","type":"nominal"}}}]},
{"width":122,"height":192,"encoding":{"x":{"field":"t","type":"quantitative","scale":{"domain":[31.5,119.5],"nice":false,"zero":false},"axis":{"values":[40,60,80,100],"title":"Time [s]"}},"y":{"field":"value","type":"quantitative","scale":{"domain":[0,120],"nice":false},"axis":{"values":[0,20,40,60,80,100,120],"title":"HR / RR [bpm]"}}},"layer":[
 {"data":{"name":"op1"},"transform":[{"fold":["hr","rr"]}],"mark":{"type":"line","interpolate":"step-after","clip":true,"strokeWidth":1.3},"encoding":{"detail":{"field":"key","type":"nominal"},"color":{"datum":"OrthProj","type":"nominal","title":null,"scale":{"domain":["OrthProj","Reference"],"range":["#7E2F8E","#000000"]}},"strokeDash":{"datum":"OrthProj","type":"nominal","title":null,"scale":{"domain":["OrthProj","Reference"],"range":[[1,0],[6,4]]}}}},
 {"data":{"name":"ref1"},"transform":[{"fold":["hr","rr"]}],"mark":{"type":"line","clip":true,"strokeWidth":1.5},"encoding":{"detail":{"field":"key","type":"nominal"},"color":{"datum":"Reference","type":"nominal"},"strokeDash":{"datum":"Reference","type":"nominal"}}},
 {"data":{"name":"ann1"},"mark":{"type":"text","baseline":"bottom"},"encoding":{"text":{"field":"label","type":"nominal"}}}]},
{"width":122,"height":192,"encoding":{"x":{"field":"t","type":"quantitative","scale":{"domain":[31.5,119.5],"nice":false,"zero":false},"axis":{"values":[40,60,80,100],"title":"Time [s]"}},"y":{"field":"value","type":"quantitative","scale":{"domain":[0,120],"nice":false},"axis":{"values":[0,20,40,60,80,100,120],"title":"HR / RR [bpm]"}}},"layer":[
 {"data":{"name":"prp1"},"transform":[{"fold":["hr","rr"]}],"mark":{"type":"line","clip":true,"strokeWidth":1.2},"encoding":{"detail":{"field":"key","type":"nominal"},"color":{"datum":"PhaseReg+","type":"nominal","title":null,"scale":{"domain":["PhaseReg+","Reference"],"range":["#77AC30","#000000"]}},"strokeDash":{"datum":"PhaseReg+","type":"nominal","title":null,"scale":{"domain":["PhaseReg+","Reference"],"range":[[1,0],[6,4]]}}}},
 {"data":{"name":"ref1"},"transform":[{"fold":["hr","rr"]}],"mark":{"type":"line","clip":true,"strokeWidth":1.5},"encoding":{"detail":{"field":"key","type":"nominal"},"color":{"datum":"Reference","type":"nominal"},"strokeDash":{"datum":"Reference","type":"nominal"}}},
 {"data":{"name":"ann1"},"mark":{"type":"text","baseline":"bottom"},"encoding":{"text":{"field":"label","type":"nominal"}}}]},
{"width":122,"height":192,"encoding":{"x":{"field":"t","type":"quantitative","scale":{"domain":[31.5,119.5],"nice":false,"zero":false},"axis":{"values":[40,60,80,100],"title":"Time [s]"}},"y":{"field":"value","type":"quantitative","scale":{"domain":[0,120],"nice":false},"axis":{"values":[0,20,40,60,80,100,120],"title":"HR / RR [bpm]"}}},"layer":[
 {"data":{"name":"fftp1"},"transform":[{"fold":["hr","rr"]}],"mark":{"type":"line","clip":true,"strokeWidth":1.2},"encoding":{"detail":{"field":"key","type":"nominal"},"color":{"datum":"FFT+","type":"nominal","title":null,"scale":{"domain":["FFT+","Reference"],"range":["#4DBEEE","#000000"]}},"strokeDash":{"datum":"FFT+","type":"nominal","title":null,"scale":{"domain":["FFT+","Reference"],"range":[[1,0],[6,4]]}}}},
 {"data":{"name":"ref1"},"transform":[{"fold":["hr","rr"]}],"mark":{"type":"line","clip":true,"strokeWidth":1.5},"encoding":{"detail":{"field":"key","type":"nominal"},"color":{"datum":"Reference","type":"nominal"},"strokeDash":{"datum":"Reference","type":"nominal"}}},
 {"data":{"name":"ann1"},"mark":{"type":"text","baseline":"bottom"},"encoding":{"text":{"field":"label","type":"nominal"}}}]},
{"width":122,"height":192,"encoding":{"x":{"field":"t","type":"quantitative","scale":{"domain":[31.5,119.5],"nice":false,"zero":false},"axis":{"values":[40,60,80,100],"title":"Time [s]"}},"y":{"field":"value","type":"quantitative","scale":{"domain":[0,120],"nice":false},"axis":{"values":[0,20,40,60,80,100,120],"title":"HR / RR [bpm]"}}},"layer":[
 {"data":{"name":"opp1"},"transform":[{"fold":["hr","rr"]}],"mark":{"type":"line","clip":true,"strokeWidth":1.2},"encoding":{"detail":{"field":"key","type":"nominal"},"color":{"datum":"OrthProj+","type":"nominal","title":null,"scale":{"domain":["OrthProj+","Reference"],"range":["#A2142F","#000000"]}},"strokeDash":{"datum":"OrthProj+","type":"nominal","title":null,"scale":{"domain":["OrthProj+","Reference"],"range":[[1,0],[6,4]]}}}},
 {"data":{"name":"ref1"},"transform":[{"fold":["hr","rr"]}],"mark":{"type":"line","clip":true,"strokeWidth":1.5},"encoding":{"detail":{"field":"key","type":"nominal"},"color":{"datum":"Reference","type":"nominal"},"strokeDash":{"datum":"Reference","type":"nominal"}}},
 {"data":{"name":"ann1"},"mark":{"type":"text","baseline":"bottom"},"encoding":{"text":{"field":"label","type":"nominal"}}}]},
{"width":122,"height":192,"encoding":{"x":{"field":"t","type":"quantitative","scale":{"domain":[31.5,119.5],"nice":false,"zero":false},"axis":{"values":[40,60,80,100],"title":"Time [s]"}},"y":{"field":"value","type":"quantitative","scale":{"domain":[0,120],"nice":false},"axis":{"values":[0,20,40,60,80,100,120],"title":"HR / RR [bpm]"}}},"layer":[
 {"data":{"name":"ev1"},"transform":[{"fold":["hr","rr"]}],"mark":{"type":"line","clip":true,"strokeWidth":1.2},"encoding":{"detail":{"field":"key","type":"nominal"},"color":{"datum":"E-VSDR","type":"nominal","title":null,"scale":{"domain":["E-VSDR","Reference"],"range":["#0000FF","#000000"]},"legend":{"encoding":{"labels":{"fontWeight":{"value":{"expr":"datum.label == 'E-VSDR' ? 'bold' : 'normal'"}}}}}},"strokeDash":{"datum":"E-VSDR","type":"nominal","title":null,"scale":{"domain":["E-VSDR","Reference"],"range":[[1,0],[6,4]]}}}},
 {"data":{"name":"ref1"},"transform":[{"fold":["hr","rr"]}],"mark":{"type":"line","clip":true,"strokeWidth":1.5},"encoding":{"detail":{"field":"key","type":"nominal"},"color":{"datum":"Reference","type":"nominal"},"strokeDash":{"datum":"Reference","type":"nominal"}}},
 {"data":{"name":"ann1"},"mark":{"type":"text","baseline":"bottom"},"encoding":{"text":{"field":"label","type":"nominal"}}}]}
]},
{"spacing":50,"bounds":"flush","resolve":{"scale":{"x":"independent","y":"independent","color":"independent","strokeDash":"independent"},"legend":{"color":"independent","strokeDash":"independent"}},
"hconcat":[
{"width":123,"height":192,"data":{"name":"v2"},"mark":{"type":"line","clip":true,"strokeWidth":0.8},"encoding":{"x":{"field":"t","type":"quantitative","scale":{"domain":[0,30],"nice":false},"axis":{"values":[0,10,20,30],"title":"Time [s]"}},"y":{"field":"v","type":"quantitative","scale":{"domain":[-1.5,1.8],"nice":false,"zero":false},"axis":{"values":[-1.5,-1,-0.5,0,0.5,1,1.5],"title":"Thoracic vibration [mm]","labelExpr":"datum.value + ''"}},"color":{"datum":"v₂","type":"nominal","title":null,"scale":{"range":["#333333"]},"legend":{"offset":8,"labelFontWeight":"bold"}}}},
{"width":122,"height":192,"encoding":{"x":{"field":"t","type":"quantitative","scale":{"domain":[31.5,119.5],"nice":false,"zero":false},"axis":{"values":[40,60,80,100],"title":"Time [s]"}},"y":{"field":"value","type":"quantitative","scale":{"domain":[0,120],"nice":false},"axis":{"values":[0,20,40,60,80,100,120],"title":"HR / RR [bpm]"}}},"layer":[
 {"data":{"name":"pr2"},"transform":[{"fold":["hr","rr"]}],"mark":{"type":"line","interpolate":"step-after","clip":true,"strokeWidth":1.3},"encoding":{"detail":{"field":"key","type":"nominal"},"color":{"datum":"PhaseReg","type":"nominal","title":null,"scale":{"domain":["PhaseReg","Reference"],"range":["#D95319","#000000"]},"legend":{"offset":5}},"strokeDash":{"datum":"PhaseReg","type":"nominal","title":null,"scale":{"domain":["PhaseReg","Reference"],"range":[[1,0],[6,4]]},"legend":{"offset":5}}}},
 {"data":{"name":"ref2"},"transform":[{"fold":["hr","rr"]}],"mark":{"type":"line","clip":true,"strokeWidth":1.5},"encoding":{"detail":{"field":"key","type":"nominal"},"color":{"datum":"Reference","type":"nominal"},"strokeDash":{"datum":"Reference","type":"nominal"}}},
 {"data":{"name":"ann2"},"mark":{"type":"text","baseline":"bottom"},"encoding":{"text":{"field":"label","type":"nominal"}}}]},
{"width":122,"height":192,"encoding":{"x":{"field":"t","type":"quantitative","scale":{"domain":[31.5,119.5],"nice":false,"zero":false},"axis":{"values":[40,60,80,100],"title":"Time [s]"}},"y":{"field":"value","type":"quantitative","scale":{"domain":[0,120],"nice":false},"axis":{"values":[0,20,40,60,80,100,120],"title":"HR / RR [bpm]"}}},"layer":[
 {"data":{"name":"fft2"},"transform":[{"fold":["hr","rr"]}],"mark":{"type":"line","interpolate":"step-after","clip":true,"strokeWidth":1.3},"encoding":{"detail":{"field":"key","type":"nominal"},"color":{"datum":"FFT","type":"nominal","title":null,"scale":{"domain":["FFT","Reference"],"range":["#EDB120","#000000"]},"legend":{"offset":5}},"strokeDash":{"datum":"FFT","type":"nominal","title":null,"scale":{"domain":["FFT","Reference"],"range":[[1,0],[6,4]]},"legend":{"offset":5}}}},
 {"data":{"name":"ref2"},"transform":[{"fold":["hr","rr"]}],"mark":{"type":"line","clip":true,"strokeWidth":1.5},"encoding":{"detail":{"field":"key","type":"nominal"},"color":{"datum":"Reference","type":"nominal"},"strokeDash":{"datum":"Reference","type":"nominal"}}},
 {"data":{"name":"ann2"},"mark":{"type":"text","baseline":"bottom"},"encoding":{"text":{"field":"label","type":"nominal"}}}]},
{"width":122,"height":192,"encoding":{"x":{"field":"t","type":"quantitative","scale":{"domain":[31.5,119.5],"nice":false,"zero":false},"axis":{"values":[40,60,80,100],"title":"Time [s]"}},"y":{"field":"value","type":"quantitative","scale":{"domain":[0,120],"nice":false},"axis":{"values":[0,20,40,60,80,100,120],"title":"HR / RR [bpm]"}}},"layer":[
 {"data":{"name":"op2"},"transform":[{"fold":["hr","rr"]}],"mark":{"type":"line","interpolate":"step-after","clip":true,"strokeWidth":1.3},"encoding":{"detail":{"field":"key","type":"nominal"},"color":{"datum":"OrthProj","type":"nominal","title":null,"scale":{"domain":["OrthProj","Reference"],"range":["#7E2F8E","#000000"]},"legend":{"offset":5}},"strokeDash":{"datum":"OrthProj","type":"nominal","title":null,"scale":{"domain":["OrthProj","Reference"],"range":[[1,0],[6,4]]},"legend":{"offset":5}}}},
 {"data":{"name":"ref2"},"transform":[{"fold":["hr","rr"]}],"mark":{"type":"line","clip":true,"strokeWidth":1.5},"encoding":{"detail":{"field":"key","type":"nominal"},"color":{"datum":"Reference","type":"nominal"},"strokeDash":{"datum":"Reference","type":"nominal"}}},
 {"data":{"name":"ann2"},"mark":{"type":"text","baseline":"bottom"},"encoding":{"text":{"field":"label","type":"nominal"}}}]},
{"width":122,"height":192,"encoding":{"x":{"field":"t","type":"quantitative","scale":{"domain":[31.5,119.5],"nice":false,"zero":false},"axis":{"values":[40,60,80,100],"title":"Time [s]"}},"y":{"field":"value","type":"quantitative","scale":{"domain":[0,120],"nice":false},"axis":{"values":[0,20,40,60,80,100,120],"title":"HR / RR [bpm]"}}},"layer":[
 {"data":{"name":"prp2"},"transform":[{"fold":["hr","rr"]}],"mark":{"type":"line","clip":true,"strokeWidth":1.2},"encoding":{"detail":{"field":"key","type":"nominal"},"color":{"datum":"PhaseReg+","type":"nominal","title":null,"scale":{"domain":["PhaseReg+","Reference"],"range":["#77AC30","#000000"]},"legend":{"offset":5}},"strokeDash":{"datum":"PhaseReg+","type":"nominal","title":null,"scale":{"domain":["PhaseReg+","Reference"],"range":[[1,0],[6,4]]},"legend":{"offset":5}}}},
 {"data":{"name":"ref2"},"transform":[{"fold":["hr","rr"]}],"mark":{"type":"line","clip":true,"strokeWidth":1.5},"encoding":{"detail":{"field":"key","type":"nominal"},"color":{"datum":"Reference","type":"nominal"},"strokeDash":{"datum":"Reference","type":"nominal"}}},
 {"data":{"name":"ann2"},"mark":{"type":"text","baseline":"bottom"},"encoding":{"text":{"field":"label","type":"nominal"}}}]},
{"width":122,"height":192,"encoding":{"x":{"field":"t","type":"quantitative","scale":{"domain":[31.5,119.5],"nice":false,"zero":false},"axis":{"values":[40,60,80,100],"title":"Time [s]"}},"y":{"field":"value","type":"quantitative","scale":{"domain":[0,120],"nice":false},"axis":{"values":[0,20,40,60,80,100,120],"title":"HR / RR [bpm]"}}},"layer":[
 {"data":{"name":"fftp2"},"transform":[{"fold":["hr","rr"]}],"mark":{"type":"line","clip":true,"strokeWidth":1.2},"encoding":{"detail":{"field":"key","type":"nominal"},"color":{"datum":"FFT+","type":"nominal","title":null,"scale":{"domain":["FFT+","Reference"],"range":["#4DBEEE","#000000"]},"legend":{"offset":5}},"strokeDash":{"datum":"FFT+","type":"nominal","title":null,"scale":{"domain":["FFT+","Reference"],"range":[[1,0],[6,4]]},"legend":{"offset":5}}}},
 {"data":{"name":"ref2"},"transform":[{"fold":["hr","rr"]}],"mark":{"type":"line","clip":true,"strokeWidth":1.5},"encoding":{"detail":{"field":"key","type":"nominal"},"color":{"datum":"Reference","type":"nominal"},"strokeDash":{"datum":"Reference","type":"nominal"}}},
 {"data":{"name":"ann2"},"mark":{"type":"text","baseline":"bottom"},"encoding":{"text":{"field":"label","type":"nominal"}}}]},
{"width":122,"height":192,"encoding":{"x":{"field":"t","type":"quantitative","scale":{"domain":[31.5,119.5],"nice":false,"zero":false},"axis":{"values":[40,60,80,100],"title":"Time [s]"}},"y":{"field":"value","type":"quantitative","scale":{"domain":[0,120],"nice":false},"axis":{"values":[0,20,40,60,80,100,120],"title":"HR / RR [bpm]"}}},"layer":[
 {"data":{"name":"opp2"},"transform":[{"fold":["hr","rr"]}],"mark":{"type":"line","clip":true,"strokeWidth":1.2},"encoding":{"detail":{"field":"key","type":"nominal"},"color":{"datum":"OrthProj+","type":"nominal","title":null,"scale":{"domain":["OrthProj+","Reference"],"range":["#A2142F","#000000"]},"legend":{"offset":5}},"strokeDash":{"datum":"OrthProj+","type":"nominal","title":null,"scale":{"domain":["OrthProj+","Reference"],"range":[[1,0],[6,4]]},"legend":{"offset":5}}}},
 {"data":{"name":"ref2"},"transform":[{"fold":["hr","rr"]}],"mark":{"type":"line","clip":true,"strokeWidth":1.5},"encoding":{"detail":{"field":"key","type":"nominal"},"color":{"datum":"Reference","type":"nominal"},"strokeDash":{"datum":"Reference","type":"nominal"}}},
 {"data":{"name":"ann2"},"mark":{"type":"text","baseline":"bottom"},"encoding":{"text":{"field":"label","type":"nominal"}}}]},
{"width":122,"height":192,"encoding":{"x":{"field":"t","type":"quantitative","scale":{"domain":[31.5,119.5],"nice":false,"zero":false},"axis":{"values":[40,60,80,100],"title":"Time [s]"}},"y":{"field":"value","type":"quantitative","scale":{"domain":[0,120],"nice":false},"axis":{"values":[0,20,40,60,80,100,120],"title":"HR / RR [bpm]"}}},"layer":[
 {"data":{"name":"ev2"},"transform":[{"fold":["hr","rr"]}],"mark":{"type":"line","clip":true,"strokeWidth":1.2},"encoding":{"detail":{"field":"key","type":"nominal"},"color":{"datum":"E-VSDR","type":"nominal","title":null,"scale":{"domain":["E-VSDR","Reference"],"range":["#0000FF","#000000"]},"legend":{"offset":5,"encoding":{"labels":{"fontWeight":{"value":{"expr":"datum.label == 'E-VSDR' ? 'bold' : 'normal'"}}}}}},"strokeDash":{"datum":"E-VSDR","type":"nominal","title":null,"scale":{"domain":["E-VSDR","Reference"],"range":[[1,0],[6,4]]},"legend":{"offset":5}}}},
 {"data":{"name":"ref2"},"transform":[{"fold":["hr","rr"]}],"mark":{"type":"line","clip":true,"strokeWidth":1.5},"encoding":{"detail":{"field":"key","type":"nominal"},"color":{"datum":"Reference","type":"nominal"},"strokeDash":{"datum":"Reference","type":"nominal"}}},
 {"data":{"name":"ann2"},"mark":{"type":"text","baseline":"bottom"},"encoding":{"text":{"field":"label","type":"nominal"}}}]}
]},
{"spacing":50,"bounds":"flush","resolve":{"scale":{"x":"independent","y":"independent","color":"independent","strokeDash":"independent"},"legend":{"color":"independent","strokeDash":"independent"}},
"hconcat":[
{"width":123,"height":192,"data":{"name":"v3"},"mark":{"type":"line","clip":true,"strokeWidth":0.8},"encoding":{"x":{"field":"t","type":"quantitative","scale":{"domain":[0,30],"nice":false},"axis":{"values":[0,10,20,30],"title":"Time [s]"}},"y":{"field":"v","type":"quantitative","scale":{"domain":[-2.75,2.2],"nice":false,"zero":false},"axis":{"values":[-2,-1,0,1,2],"title":"Thoracic vibration [mm]","labelExpr":"datum.value + ''"}},"color":{"datum":"v₃","type":"nominal","title":null,"scale":{"range":["#333333"]},"legend":{"offset":8,"labelFontWeight":"bold"}}}},
{"width":122,"height":192,"encoding":{"x":{"field":"t","type":"quantitative","scale":{"domain":[31.5,119.5],"nice":false,"zero":false},"axis":{"values":[40,60,80,100],"title":"Time [s]"}},"y":{"field":"value","type":"quantitative","scale":{"domain":[0,120],"nice":false},"axis":{"values":[0,20,40,60,80,100,120],"title":"HR / RR [bpm]"}}},"layer":[
 {"data":{"name":"pr3"},"transform":[{"fold":["hr","rr"]}],"mark":{"type":"line","interpolate":"step-after","clip":true,"strokeWidth":1.3},"encoding":{"detail":{"field":"key","type":"nominal"},"color":{"datum":"PhaseReg","type":"nominal","title":null,"scale":{"domain":["PhaseReg","Reference"],"range":["#D95319","#000000"]},"legend":{"offset":5}},"strokeDash":{"datum":"PhaseReg","type":"nominal","title":null,"scale":{"domain":["PhaseReg","Reference"],"range":[[1,0],[6,4]]},"legend":{"offset":5}}}},
 {"data":{"name":"ref3"},"transform":[{"fold":["hr","rr"]}],"mark":{"type":"line","clip":true,"strokeWidth":1.5},"encoding":{"detail":{"field":"key","type":"nominal"},"color":{"datum":"Reference","type":"nominal"},"strokeDash":{"datum":"Reference","type":"nominal"}}},
 {"data":{"name":"ann3"},"mark":{"type":"text","baseline":"bottom"},"encoding":{"text":{"field":"label","type":"nominal"}}}]},
{"width":122,"height":192,"encoding":{"x":{"field":"t","type":"quantitative","scale":{"domain":[31.5,119.5],"nice":false,"zero":false},"axis":{"values":[40,60,80,100],"title":"Time [s]"}},"y":{"field":"value","type":"quantitative","scale":{"domain":[0,120],"nice":false},"axis":{"values":[0,20,40,60,80,100,120],"title":"HR / RR [bpm]"}}},"layer":[
 {"data":{"name":"fft3"},"transform":[{"fold":["hr","rr"]}],"mark":{"type":"line","interpolate":"step-after","clip":true,"strokeWidth":1.3},"encoding":{"detail":{"field":"key","type":"nominal"},"color":{"datum":"FFT","type":"nominal","title":null,"scale":{"domain":["FFT","Reference"],"range":["#EDB120","#000000"]},"legend":{"offset":5}},"strokeDash":{"datum":"FFT","type":"nominal","title":null,"scale":{"domain":["FFT","Reference"],"range":[[1,0],[6,4]]},"legend":{"offset":5}}}},
 {"data":{"name":"ref3"},"transform":[{"fold":["hr","rr"]}],"mark":{"type":"line","clip":true,"strokeWidth":1.5},"encoding":{"detail":{"field":"key","type":"nominal"},"color":{"datum":"Reference","type":"nominal"},"strokeDash":{"datum":"Reference","type":"nominal"}}},
 {"data":{"name":"ann3"},"mark":{"type":"text","baseline":"bottom"},"encoding":{"text":{"field":"label","type":"nominal"}}}]},
{"width":122,"height":192,"encoding":{"x":{"field":"t","type":"quantitative","scale":{"domain":[31.5,119.5],"nice":false,"zero":false},"axis":{"values":[40,60,80,100],"title":"Time [s]"}},"y":{"field":"value","type":"quantitative","scale":{"domain":[0,120],"nice":false},"axis":{"values":[0,20,40,60,80,100,120],"title":"HR / RR [bpm]"}}},"layer":[
 {"data":{"name":"op3"},"transform":[{"fold":["hr","rr"]}],"mark":{"type":"line","interpolate":"step-after","clip":true,"strokeWidth":1.3},"encoding":{"detail":{"field":"key","type":"nominal"},"color":{"datum":"OrthProj","type":"nominal","title":null,"scale":{"domain":["OrthProj","Reference"],"range":["#7E2F8E","#000000"]},"legend":{"offset":5}},"strokeDash":{"datum":"OrthProj","type":"nominal","title":null,"scale":{"domain":["OrthProj","Reference"],"range":[[1,0],[6,4]]},"legend":{"offset":5}}}},
 {"data":{"name":"ref3"},"transform":[{"fold":["hr","rr"]}],"mark":{"type":"line","clip":true,"strokeWidth":1.5},"encoding":{"detail":{"field":"key","type":"nominal"},"color":{"datum":"Reference","type":"nominal"},"strokeDash":{"datum":"Reference","type":"nominal"}}},
 {"data":{"name":"ann3"},"mark":{"type":"text","baseline":"bottom"},"encoding":{"text":{"field":"label","type":"nominal"}}}]},
{"width":122,"height":192,"encoding":{"x":{"field":"t","type":"quantitative","scale":{"domain":[31.5,119.5],"nice":false,"zero":false},"axis":{"values":[40,60,80,100],"title":"Time [s]"}},"y":{"field":"value","type":"quantitative","scale":{"domain":[0,120],"nice":false},"axis":{"values":[0,20,40,60,80,100,120],"title":"HR / RR [bpm]"}}},"layer":[
 {"data":{"name":"prp3"},"transform":[{"fold":["hr","rr"]}],"mark":{"type":"line","clip":true,"strokeWidth":1.2},"encoding":{"detail":{"field":"key","type":"nominal"},"color":{"datum":"PhaseReg+","type":"nominal","title":null,"scale":{"domain":["PhaseReg+","Reference"],"range":["#77AC30","#000000"]},"legend":{"offset":5}},"strokeDash":{"datum":"PhaseReg+","type":"nominal","title":null,"scale":{"domain":["PhaseReg+","Reference"],"range":[[1,0],[6,4]]},"legend":{"offset":5}}}},
 {"data":{"name":"ref3"},"transform":[{"fold":["hr","rr"]}],"mark":{"type":"line","clip":true,"strokeWidth":1.5},"encoding":{"detail":{"field":"key","type":"nominal"},"color":{"datum":"Reference","type":"nominal"},"strokeDash":{"datum":"Reference","type":"nominal"}}},
 {"data":{"name":"ann3"},"mark":{"type":"text","baseline":"bottom"},"encoding":{"text":{"field":"label","type":"nominal"}}}]},
{"width":122,"height":192,"encoding":{"x":{"field":"t","type":"quantitative","scale":{"domain":[31.5,119.5],"nice":false,"zero":false},"axis":{"values":[40,60,80,100],"title":"Time [s]"}},"y":{"field":"value","type":"quantitative","scale":{"domain":[0,120],"nice":false},"axis":{"values":[0,20,40,60,80,100,120],"title":"HR / RR [bpm]"}}},"layer":[
 {"data":{"name":"fftp3"},"transform":[{"fold":["hr","rr"]}],"mark":{"type":"line","clip":true,"strokeWidth":1.2},"encoding":{"detail":{"field":"key","type":"nominal"},"color":{"datum":"FFT+","type":"nominal","title":null,"scale":{"domain":["FFT+","Reference"],"range":["#4DBEEE","#000000"]},"legend":{"offset":5}},"strokeDash":{"datum":"FFT+","type":"nominal","title":null,"scale":{"domain":["FFT+","Reference"],"range":[[1,0],[6,4]]},"legend":{"offset":5}}}},
 {"data":{"name":"ref3"},"transform":[{"fold":["hr","rr"]}],"mark":{"type":"line","clip":true,"strokeWidth":1.5},"encoding":{"detail":{"field":"key","type":"nominal"},"color":{"datum":"Reference","type":"nominal"},"strokeDash":{"datum":"Reference","type":"nominal"}}},
 {"data":{"name":"ann3"},"mark":{"type":"text","baseline":"bottom"},"encoding":{"text":{"field":"label","type":"nominal"}}}]},
{"width":122,"height":192,"encoding":{"x":{"field":"t","type":"quantitative","scale":{"domain":[31.5,119.5],"nice":false,"zero":false},"axis":{"values":[40,60,80,100],"title":"Time [s]"}},"y":{"field":"value","type":"quantitative","scale":{"domain":[0,120],"nice":false},"axis":{"values":[0,20,40,60,80,100,120],"title":"HR / RR [bpm]"}}},"layer":[
 {"data":{"name":"opp3"},"transform":[{"fold":["hr","rr"]}],"mark":{"type":"line","clip":true,"strokeWidth":1.2},"encoding":{"detail":{"field":"key","type":"nominal"},"color":{"datum":"OrthProj+","type":"nominal","title":null,"scale":{"domain":["OrthProj+","Reference"],"range":["#A2142F","#000000"]},"legend":{"offset":5}},"strokeDash":{"datum":"OrthProj+","type":"nominal","title":null,"scale":{"domain":["OrthProj+","Reference"],"range":[[1,0],[6,4]]},"legend":{"offset":5}}}},
 {"data":{"name":"ref3"},"transform":[{"fold":["hr","rr"]}],"mark":{"type":"line","clip":true,"strokeWidth":1.5},"encoding":{"detail":{"field":"key","type":"nominal"},"color":{"datum":"Reference","type":"nominal"},"strokeDash":{"datum":"Reference","type":"nominal"}}},
 {"data":{"name":"ann3"},"mark":{"type":"text","baseline":"bottom"},"encoding":{"text":{"field":"label","type":"nominal"}}}]},
{"width":122,"height":192,"encoding":{"x":{"field":"t","type":"quantitative","scale":{"domain":[31.5,119.5],"nice":false,"zero":false},"axis":{"values":[40,60,80,100],"title":"Time [s]"}},"y":{"field":"value","type":"quantitative","scale":{"domain":[0,120],"nice":false},"axis":{"values":[0,20,40,60,80,100,120],"title":"HR / RR [bpm]"}}},"layer":[
 {"data":{"name":"ev3"},"transform":[{"fold":["hr","rr"]}],"mark":{"type":"line","clip":true,"strokeWidth":1.2},"encoding":{"detail":{"field":"key","type":"nominal"},"color":{"datum":"E-VSDR","type":"nominal","title":null,"scale":{"domain":["E-VSDR","Reference"],"range":["#0000FF","#000000"]},"legend":{"offset":5,"encoding":{"labels":{"fontWeight":{"value":{"expr":"datum.label == 'E-VSDR' ? 'bold' : 'normal'"}}}}}},"strokeDash":{"datum":"E-VSDR","type":"nominal","title":null,"scale":{"domain":["E-VSDR","Reference"],"range":[[1,0],[6,4]]},"legend":{"offset":5}}}},
 {"data":{"name":"ref3"},"transform":[{"fold":["hr","rr"]}],"mark":{"type":"line","clip":true,"strokeWidth":1.5},"encoding":{"detail":{"field":"key","type":"nominal"},"color":{"datum":"Reference","type":"nominal"},"strokeDash":{"datum":"Reference","type":"nominal"}}},
 {"data":{"name":"ann3"},"mark":{"type":"text","baseline":"bottom"},"encoding":{"text":{"field":"label","type":"nominal"}}}]}
]}
]
}
